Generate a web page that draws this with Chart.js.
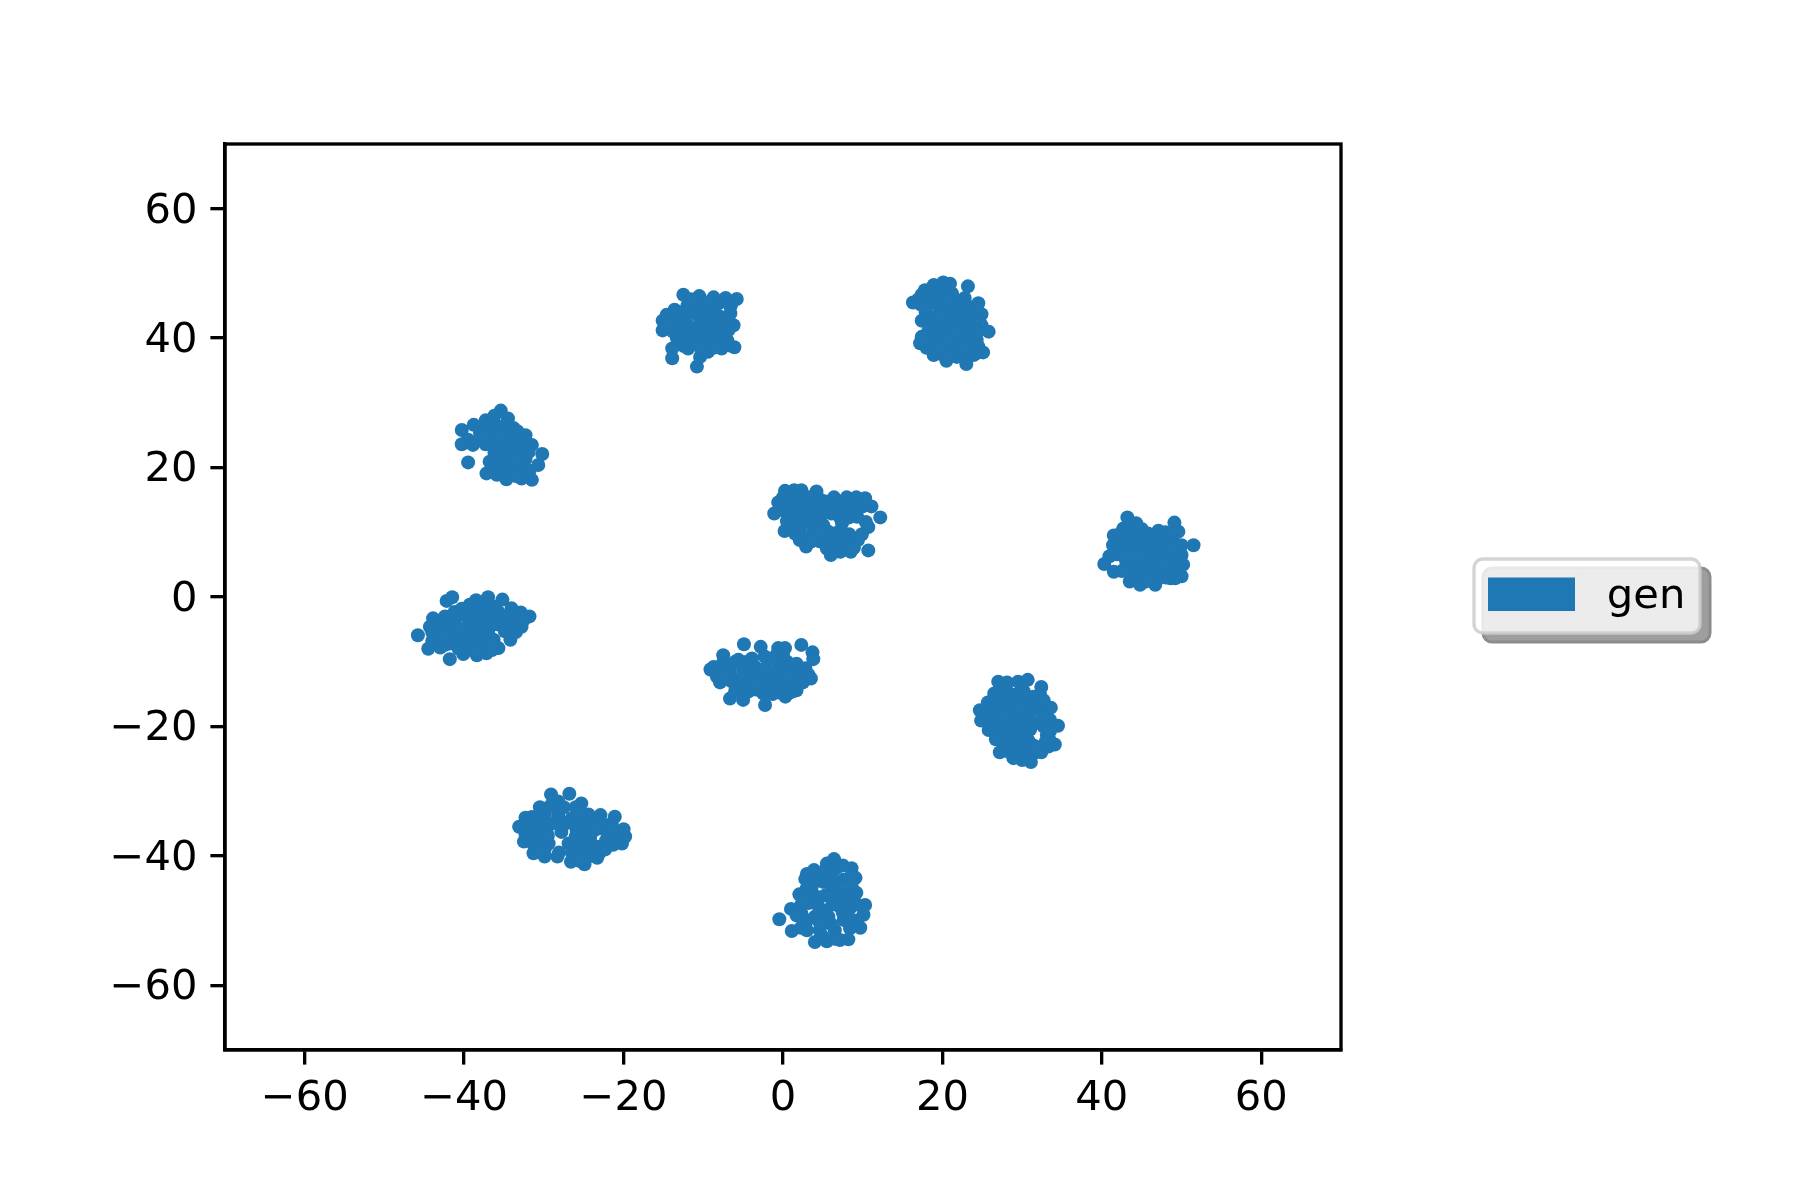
<!DOCTYPE html>
<html><head><meta charset="utf-8">
<style>html,body{margin:0;padding:0;background:#fff}canvas{display:block}</style>
<script src="https://cdn.jsdelivr.net/npm/chart.js@4"></script>
</head><body><canvas id="c" width="1800" height="1200"></canvas>
<script>
const seriesName = "gen";
const xTickValues = [-60,-40,-20,0,20,40,60];
const yTickValues = [-60,-40,-20,0,20,40,60];
const clusterA = [[-40.3,25.8],[-40.3,23.6],[-38.8,26.6],[-38.9,23.5],[-37.3,27.3],[-35.4,28.8],[-34.5,27.6],[-33.8,26.1],[-32.3,25.0],[-31.5,23.5],[-30.2,22.1],[-30.7,20.4],[-31.5,18.1],[-32.8,18.3],[-34.7,18.2],[-35.9,18.9],[-37.2,19.1],[-36.8,20.9],[-39.5,20.8],[-36.4,25.3],[-35.5,26.3],[-35.5,23.7],[-34.3,23.7],[-33.0,22.2],[-33.8,20.7],[-35.5,21.7],[-32.6,20.1],[-38.0,25.3],[-34.7,19.6],[-33.4,19.1],[-38,24.5],[-36.5,27],[-36,24],[-35,25],[-33.5,24.6],[-32.7,23.6],[-34.8,22.5],[-36,20],[-34.3,21.5],[-32.3,21.3],[-31.8,19.5],[-33.2,20.5],[-36.2,22.3],[-37,26.3],[-34.7,26.7],[-36.2,28],[-33.3,25.6],[-34,25],[-35.8,22.9],[-36,20.9],[-34.6,20.7],[-32.7,19],[-33.5,18.7],[-33.2,23.3],[-31.9,22.4],[-35.2,19.2],[-34.3,23],[-35.3,24.6],[-33.5,21.6],[-39.5,24.3],[-38,26.2],[-37.3,23.6],[-37.5,24.9]];
const clusterB = [[-12.5,46.7],[-10.5,46.5],[-8.7,46.3],[-7.2,46.2],[-5.8,46.05],[-13.6,44.4],[-14.6,43.6],[-15.1,42.7],[-15.1,41.2],[-13.1,39.7],[-13.9,38.4],[-13.9,36.9],[-11.9,38.4],[-10.8,35.6],[-10.4,37.1],[-9.4,37.9],[-7.7,38.4],[-6.1,38.6],[-6.2,42.0],[-6.6,43.8],[-7.3,40.5],[-10.4,42.8],[-12.1,42.3],[-8.7,44.4],[-9.6,40.2],[-11.7,40.5],[-13.3,42.3],[-7.9,42.3],[-10.8,44.9],[-9.2,42.8],[-12.5,43.8],[-8.1,45.4],[-13.8,41.0],[-12,45],[-14,43],[-11.5,41.5],[-12.8,40.9],[-11,39.3],[-9.5,39],[-8.2,39.5],[-7,39.7],[-7.2,43],[-6.6,44.9],[-9.7,45.5],[-11.2,43.9],[-10,41.5],[-8.2,41.4],[-13.5,43.2],[-12.5,38.8],[-13.2,44],[-14.4,42],[-12.8,42.9],[-13.3,40],[-10.9,41.2],[-10.7,40.2],[-12.7,39.7],[-8.5,40.4],[-6.8,41.3],[-8.7,38.5],[-10.3,38.4],[-6.8,38.9],[-7.1,42.3],[-8,43.4],[-9.7,44],[-11.5,46],[-9.3,41.5],[-6.5,45.2],[-12,41]];
const clusterC = [[16.3,45.5],[17.8,47.4],[18.9,48.2],[20.1,48.6],[20.95,48.4],[23.2,48.0],[22.8,46.2],[24.5,45.4],[24.9,43.7],[24.9,42.0],[25.8,41.0],[24.3,39.7],[25.1,37.8],[23.9,37.4],[23.0,36.0],[21.8,37.1],[20.5,36.5],[18.9,37.4],[17.2,39.2],[17.4,40.2],[17.4,42.7],[18.4,45.4],[19.7,46.4],[21.2,46.9],[19.7,44.4],[21.2,44.6],[22.2,43.6],[18.9,43.1],[20.5,42.3],[22.4,41.8],[19.7,40.5],[21.4,40.2],[18.9,39.2],[23.3,38.7],[20.5,38.2],[23.3,40.5],[18.2,46.8],[19,45.5],[20,47.7],[21.8,45.8],[23.2,44.9],[23.8,43.6],[21.3,43.3],[19,41.5],[18.2,41],[18,38.5],[19.7,37.6],[21.5,38.6],[22.6,39.1],[24.5,38.7],[23.8,41.8],[22.5,37.5],[17.9,44],[20,39.3],[21,45.5],[20.4,45.4],[18.8,46.6],[22.8,45],[22.9,42.9],[22,42.7],[20,43.2],[18.5,42.2],[20.4,41.2],[19,40.2],[22.6,40.6],[21.8,39.2],[24.2,37.6],[20.5,37.2],[19.5,38.4],[17.8,40],[23.6,39.6],[22.7,38.2],[21.5,41.3],[18.2,43.5],[20.6,46.2],[24.3,44.5],[22.3,44.6],[24.3,40.8],[17,46],[17.3,45.2],[18,44.9],[17.4,46.7]];
const clusterD = [[0.25,16.4],[1.4,16.5],[2.3,16.5],[4.2,16.3],[6.4,15.4],[8.0,15.4],[9.2,15.4],[10.3,15.25],[11.1,14.0],[12.2,12.3],[10.7,10.8],[10.7,7.2],[8.5,7.0],[7.2,7.0],[6.0,6.5],[9.4,8.8],[4.6,8.6],[2.9,7.8],[2.1,8.8],[0.2,10.2],[-1.1,12.9],[-0.6,14.6],[0.9,14.5],[2.5,14.5],[4.0,14.0],[1.3,12.4],[3.0,12.4],[4.4,12.2],[2.1,10.6],[3.8,10.4],[5.7,10.1],[6.1,12.9],[7.6,13.2],[8.8,13.4],[6.9,8.8],[8.2,8.6],[9.3,12.4],[7.4,11.4],[5.05,11.1],[0.45,12.9],[1.5,15.5],[3.3,15.4],[-0.2,13.5],[0.5,11.7],[1.5,9.8],[3,9.2],[4.5,9.9],[5.2,13.2],[4.5,15.2],[6.8,14.2],[8.6,14.3],[10,14],[5.5,7.5],[7.8,8],[6.9,10],[3.4,11.5],[0,15.4],[2.6,13.4],[1.8,13.4],[0.8,13.2],[3.7,13.2],[2.2,11.6],[1,10.8],[4.5,11],[6,14],[5.2,14.8],[7.2,14.5],[9.2,14.3],[7.2,12.2],[8.3,12.3],[5.6,8.8],[6.2,7.9],[8.9,7.6],[7.5,9.6],[8.3,9.7],[3.6,8.6],[5,12.8],[4.8,10.2],[9.9,9.7],[10.4,11.6]];
const clusterE = [[43.2,12.3],[44.3,11.4],[42.7,10.6],[41.5,9.5],[41.4,8.0],[40.95,6.3],[40.3,5.1],[41.5,3.9],[43.5,2.4],[44.8,1.9],[46.7,1.9],[48.6,2.9],[50.0,3.2],[50.2,5.0],[51.5,8.0],[49.6,10.1],[49.1,11.5],[47.1,10.25],[45.8,9.8],[48.6,9.1],[43.1,9.3],[44.4,8.3],[42.9,7.3],[45.8,7.5],[47.3,8.3],[43.9,5.7],[45.2,6.5],[47.5,6.0],[49.4,6.75],[43.75,3.7],[45.6,3.4],[47.1,3.9],[48.8,5.0],[45.8,5.2],[43.1,5.2],[48.35,7.8],[43.5,10.5],[45,10.5],[46.5,9.5],[48,10],[47.8,8.8],[49.2,8.2],[50,6.5],[50,8],[42.8,8.5],[41.9,6.6],[43,5.8],[44.7,5],[46.5,4.8],[48.5,3.9],[46.4,2.9],[44.5,2.8],[42.5,4],[46.6,7],[49,4],[44.5,7],[48.5,6.3],[44,9.8],[45.3,9],[46.8,8.8],[44.8,9.3],[43.7,8],[41.9,8.8],[42.3,9.8],[46.2,8.2],[47.5,7.2],[48.7,7.2],[49.6,5.5],[49.2,2.9],[47.8,4.9],[46.6,5.8],[44.5,6],[42.6,6.6],[44.3,3.8],[47,2.9],[45.5,2.4],[48,3]];
const clusterF = [[-42.2,-0.6],[-41.5,-0.05],[-38.5,-0.5],[-37.0,-0.05],[-35.2,-0.4],[-34.05,-1.75],[-32.9,-2.4],[-31.8,-3.0],[-32.8,-4.6],[-34.2,-6.6],[-35.7,-7.9],[-37.2,-8.7],[-38.4,-9.0],[-40.1,-8.8],[-41.8,-9.6],[-42.4,-7.4],[-44.5,-8.0],[-45.8,-5.9],[-44.3,-4.6],[-43.9,-3.3],[-42.4,-3.0],[-41.2,-2.3],[-39.3,-1.2],[-37.6,-1.2],[-38.4,-2.5],[-36.8,-2.8],[-35.1,-3.3],[-33.6,-3.6],[-39.1,-4.3],[-37.6,-4.1],[-37.8,-5.9],[-39.1,-6.4],[-41.2,-5.9],[-42.6,-5.1],[-41.8,-7.2],[-39.7,-7.7],[-37.4,-7.2],[-43,-5.9],[-43.5,-6.9],[-44,-5.5],[-41.8,-4.0],[-40.5,-2.4],[-38.7,-3.4],[-36.3,-1.5],[-35.7,-2.3],[-33.5,-2.5],[-32.5,-3.5],[-36.3,-6.6],[-37,-5.3],[-38.5,-7.7],[-40.5,-7],[-40.5,-5.5],[-36.5,-8.2],[-43,-4.5],[-39.7,-1.9],[-40.3,-1.8],[-38,-1.7],[-37,-1.6],[-34.3,-2.8],[-33.8,-3],[-36,-3.4],[-34.8,-4],[-38,-3.1],[-39.2,-5.3],[-38,-5],[-36.8,-6.2],[-36.5,-7.3],[-38.7,-8.3],[-42.5,-6.3],[-41.8,-5],[-44,-6.8],[-43,-7.8],[-40.7,-8],[-43.2,-3.8],[-38.2,-6.8],[-33.5,-5.4],[-41,-6.5],[-34,-4.7],[-35.9,-4.2],[-34.9,-5.3],[-39.4,-3.5],[-41.2,-3.9],[-40.2,-2.7],[-40.3,-4.9]];
const clusterG = [[-4.9,-7.3],[-2.8,-7.7],[-0.6,-7.9],[0.25,-7.9],[2.3,-7.4],[3.7,-8.55],[3.8,-9.6],[-7.5,-9.0],[-2.3,-9.2],[-5.6,-9.7],[-8.7,-10.8],[-9.1,-11.2],[-7.9,-13.2],[-6.65,-15.7],[-5,-15.9],[-2.25,-16.7],[0.3,-15.4],[1.7,-14.4],[3.5,-12.6],[2.8,-11.0],[0.5,-10.0],[-0.4,-9.2],[-6.65,-11.5],[-5,-11.0],[-3.5,-10.8],[-1.4,-12.1],[0.05,-11.5],[1.5,-11.8],[-6.0,-12.8],[-4.35,-13.1],[-2.7,-13.6],[-1.0,-13.6],[0.7,-13.6],[-4.35,-14.6],[-2.5,-14.9],[-7,-10.5],[-8,-11.7],[-8.3,-12.3],[-6.5,-13],[-5,-12],[-3.9,-9.5],[-4.2,-12.2],[-3,-12.3],[-0.5,-10.8],[1,-10.8],[2,-12.5],[2.5,-13.2],[1.5,-13.2],[-0.3,-14.8],[-1.3,-15],[0.8,-14.8],[-6,-10],[-4.5,-10],[-4,-11],[-6.8,-12.3],[-5.5,-14],[-3.4,-14.3],[-3.6,-13.4],[-2,-12.9],[-1.8,-14.3],[-0.2,-12.5],[-0.5,-11.8],[0.8,-12.5],[0,-9],[1.7,-10.3],[3.2,-12],[1.2,-14.6],[-6,-14.5],[-0.8,-8.9],[-7.3,-12.3],[-5,-14.9],[-7.6,-10.3],[-2.2,-11],[-1.2,-9.6]];
const clusterH = [[27.0,-13.1],[28.1,-13.2],[29.5,-13.1],[30.7,-12.8],[32.4,-13.9],[32.25,-15.1],[33.6,-17.1],[33.5,-19.0],[34.5,-19.9],[34.1,-22.8],[33.3,-23.1],[31.4,-24.2],[31.1,-25.5],[30,-25.2],[28.9,-24.9],[27.2,-24.0],[27.4,-22.1],[25.8,-20.55],[24.85,-19.1],[24.7,-17.5],[26.1,-16.1],[26.5,-14.9],[27.4,-15.1],[29.1,-15.1],[30.2,-14.6],[31.4,-15.4],[27.4,-17.2],[29.1,-16.7],[30.8,-17.2],[32.25,-17.2],[27,-19],[28.5,-19],[30.2,-19.3],[32.7,-20.0],[28.7,-21.1],[30.4,-21.1],[33.1,-21.3],[29.1,-23.1],[30.8,-23.1],[25.8,-17.5],[25.9,-18.6],[26.7,-20.4],[28,-21.9],[28.3,-23.9],[29.9,-24],[32,-23.2],[33,-22.3],[32.6,-18.7],[31.5,-19.6],[28.6,-17.8],[29.3,-20],[27.3,-20.2],[26.5,-18],[31.7,-16.3],[28,-14.3],[26,-17],[30.8,-22.2],[29,-22],[28,-16.2],[26.7,-16.2],[30,-16],[29.5,-18],[31,-18],[32.7,-16],[28,-18.4],[26.2,-19.6],[28,-20.2],[31,-20.5],[29.8,-20.3],[33.5,-20.7],[28,-23],[30,-22.5],[32.4,-24],[31.5,-23],[26.7,-22],[33.4,-22],[29.8,-17.2],[25.7,-16.3]];
const clusterI = [[-29.1,-30.5],[-26.8,-30.4],[-25.3,-31.9],[-30.5,-32.5],[-28.2,-31.6],[-32.3,-34.1],[-33.1,-35.5],[-32.5,-37.8],[-31.3,-39.6],[-29.9,-40.1],[-28.1,-39.5],[-26.6,-40.9],[-24.9,-41.3],[-23.3,-40.3],[-23.2,-38.6],[-21.3,-38.3],[-20.2,-38.1],[-19.8,-37.0],[-20.0,-35.9],[-21.1,-33.95],[-22.9,-33.7],[-24.4,-33.6],[-22.3,-36.0],[-29.9,-33.7],[-28.2,-33.7],[-26.5,-34.2],[-31.1,-35.75],[-29.65,-36.3],[-25.9,-36.0],[-24.4,-35.5],[-30.7,-37.8],[-27.8,-36.3],[-26.9,-38.1],[-25.3,-38.6],[-24.2,-37.3],[-29.4,-38.1],[-25,-39.9],[-31.5,-36.5],[-32,-35.5],[-31.5,-34],[-30.7,-34.7],[-29,-35],[-27.5,-32.5],[-26,-32.5],[-24.8,-34.7],[-23.3,-34.5],[-21.5,-35],[-21,-37],[-22.2,-37.6],[-27.3,-35],[-31.3,-38.3],[-29.9,-39],[-26.5,-39.5],[-24,-38.8],[-23,-39.5],[-26,-37],[-25.5,-40.8],[-31.8,-35],[-32.3,-36.7],[-31.7,-37.4],[-30.3,-36.2],[-30.1,-35.2],[-28,-35],[-28.3,-32.7],[-29.2,-32.3],[-25.5,-33.3],[-24.6,-36.6],[-22.7,-35.2],[-23.6,-36],[-21.3,-36],[-28.3,-40.1],[-30.6,-39],[-29.5,-36.9],[-26,-38.4],[-25.2,-37.4],[-22.3,-39],[-24.1,-40],[-26,-35],[-23.7,-39]];
const clusterJ = [[6.4,-40.5],[5.5,-41.2],[3.9,-42.2],[8.6,-41.9],[9.1,-43.4],[2.8,-43.6],[4.6,-43.2],[6.7,-41.9],[2.05,-45.95],[9.2,-45.7],[10.3,-47.6],[1.0,-48.2],[-0.46,-49.8],[1.1,-51.6],[2.25,-51.1],[4.0,-53.3],[5.5,-53.2],[7.15,-53.0],[8.2,-52.9],[9.7,-51.1],[10.1,-49.1],[6.1,-44.8],[7.6,-43.7],[6.1,-43.2],[3.6,-44.8],[7.8,-45.8],[6.7,-45.8],[3.2,-47.3],[4.2,-46.3],[7.15,-47.9],[8.4,-48.1],[4.0,-49.4],[5.7,-49.4],[7.6,-49.9],[2.3,-48.9],[4.6,-51.5],[6.5,-51.5],[8.4,-51.2],[3,-42.8],[7.5,-41.5],[8.5,-43.2],[3.3,-46],[8.6,-44.7],[2.3,-47.5],[1.7,-49.2],[3,-50],[3,-51.5],[5,-52.5],[6.5,-52.8],[9.3,-50],[9.3,-47.5],[8,-46.5],[6,-50.5],[7.5,-48.8],[6.7,-47.2],[8.5,-50],[5,-44],[4.4,-47.7],[6.2,-47.5],[5.3,-46.1],[5.3,-48.5],[4.6,-50.3],[2.5,-46.7],[3.8,-43.6],[5.3,-42.3],[7.2,-46.7],[3,-45],[6.8,-44.8]];
const allClusters = [clusterA,clusterB,clusterC,clusterD,clusterE,clusterF,clusterG,clusterH,clusterI,clusterJ];
const points = allClusters.flat().map(p => ({x:p[0], y:p[1]}));

const BLUE = '#1f77b4', FONT = '"DejaVu Sans"', FS = 41.67, LW = 3.33;
const fmt = v => String(v).replace('-', '\u2212');
const rr = (ctx,x,y,w,h,r) => { ctx.beginPath(); ctx.roundRect(x,y,w,h,r); };

const frame = {
  id:'frame',
  beforeLayout(chart){
    const lg = chart.legend;
    if (!lg._wrapped) {
      const base = lg.fit;
      lg.fit = function(){ base.call(this); this.width = 459; };
      lg._wrapped = true;
    }
  },
  afterLayout(chart){ const lg = chart.legend; lg.top -= 75; lg.bottom -= 75; },
  beforeDraw(chart){
    const ctx = chart.ctx; ctx.save();
    rr(ctx,1483,568,227,74,9); ctx.fillStyle='#9e9e9e'; ctx.fill();
    ctx.lineWidth=3; ctx.strokeStyle='#8c8c8c'; ctx.stroke();
    rr(ctx,1474,559,226,74,9);
    ctx.fillStyle='rgba(255,255,255,0.8)'; ctx.fill();
    ctx.lineWidth=LW; ctx.strokeStyle='rgba(204,204,204,0.85)'; ctx.stroke();
    ctx.restore();
  },
  afterDraw(chart){
    const ctx = chart.ctx, a = chart.chartArea; ctx.save();
    ctx.fillStyle='#ebebeb'; ctx.fillRect(1575,572,12,50); ctx.fillRect(1488,611,87,10);
    ctx.lineWidth=LW; ctx.strokeStyle='#000';
    ctx.strokeRect(a.left,a.top,a.right-a.left,a.bottom-a.top);
    ctx.restore();
  }
};

const axis = (vals, fit, pad, off) => ({
  type:'linear', min:-70, max:70,
  afterBuildTicks(s){ s.ticks = vals.map(v => ({value:v})); },
  afterFit: fit,
  grid:{display:true, drawOnChartArea:false, drawTicks:true, tickLength:14.6, tickWidth:LW, tickColor:'#000', color:'#000', lineWidth:LW},
  border:{display:true, color:'#000', width:LW},
  ticks:{color:'#000', padding:pad, labelOffset:off, maxRotation:0, autoSkip:false, font:{family:FONT,size:FS}, callback:v => fmt(v)}
});

new Chart(document.getElementById('c'), {
  type:'scatter',
  data:{datasets:[{label:seriesName, data:points, backgroundColor:BLUE, borderColor:BLUE, borderWidth:0, pointRadius:7, pointHoverRadius:7}]},
  options:{
    responsive:false, animation:false, devicePixelRatio:1,
    layout:{padding:{top:144,left:0,right:0,bottom:0}},
    plugins:{
      title:{display:false}, tooltip:{enabled:false},
      legend:{display:true, position:'right', align:'center',
        labels:{boxWidth:98, boxHeight:39, padding:147, color:'#000', font:{family:FONT,size:FS}}}
    },
    scales:{
      x:axis(xTickValues, s => { s.height = 150; }, 10, 0),
      y:axis(yTickValues, s => { s.width = 225; }, 13, 3)
    }
  },
  plugins:[frame]
});
</script></body></html>
